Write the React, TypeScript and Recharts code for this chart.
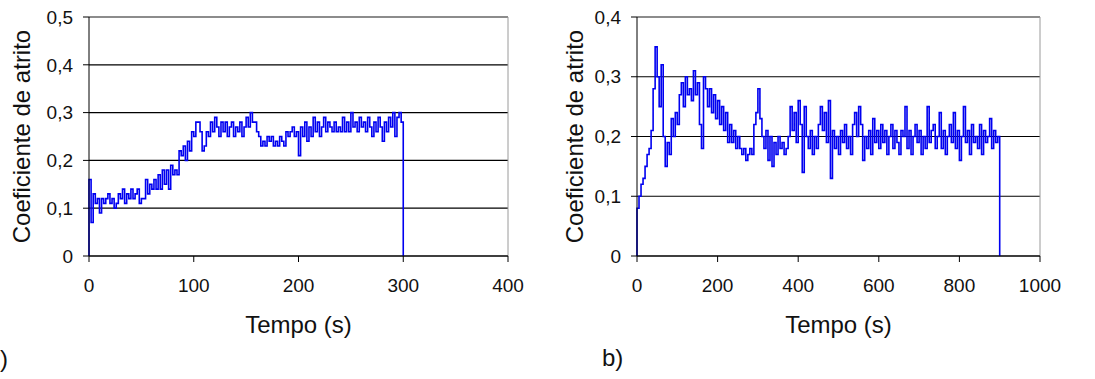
import { LineChart, Line, XAxis, YAxis, CartesianGrid, ReferenceLine, Label } from 'recharts';

// amostragem: ensaio a) a cada 2 s, ensaio b) a cada 5 s
const stepA = 2;
const stepB = 5;

const muA = [
  0.16, 0.07, 0.13, 0.11, 0.12, 0.09, 0.12, 0.11, 0.12, 0.13,
  0.11, 0.12, 0.10, 0.11, 0.13, 0.12, 0.14, 0.11, 0.13, 0.12,
  0.14, 0.12, 0.13, 0.14, 0.11, 0.12, 0.12, 0.16, 0.13, 0.15,
  0.14, 0.16, 0.14, 0.17, 0.14, 0.18, 0.15, 0.18, 0.14, 0.19,
  0.17, 0.18, 0.17, 0.22, 0.21, 0.23, 0.20, 0.24, 0.22, 0.26,
  0.25, 0.28, 0.28, 0.26, 0.22, 0.23, 0.26, 0.25, 0.28, 0.26,
  0.29, 0.27, 0.25, 0.28, 0.26, 0.28, 0.25, 0.27, 0.28, 0.25,
  0.27, 0.26, 0.28, 0.25, 0.27, 0.29, 0.27, 0.30, 0.28, 0.28,
  0.26, 0.25, 0.23, 0.24, 0.23, 0.25, 0.24, 0.25, 0.23, 0.24,
  0.23, 0.25, 0.24, 0.23, 0.26, 0.25, 0.26, 0.27, 0.25, 0.26,
  0.21, 0.27, 0.25, 0.28, 0.24, 0.27, 0.25, 0.29, 0.26, 0.28,
  0.25, 0.27, 0.29, 0.26, 0.28, 0.27, 0.26, 0.28, 0.26, 0.27,
  0.26, 0.29, 0.26, 0.28, 0.26, 0.30, 0.27, 0.28, 0.26, 0.29,
  0.27, 0.28, 0.26, 0.29, 0.27, 0.25, 0.28, 0.26, 0.29, 0.27,
  0.24, 0.28, 0.26, 0.29, 0.27, 0.30, 0.25, 0.29, 0.30, 0.28,
  0.24,
];

const muB = [
  0.08, 0.10, 0.12, 0.13, 0.15, 0.17, 0.18, 0.21, 0.28, 0.35,
  0.30, 0.25, 0.32, 0.20, 0.15, 0.19, 0.17, 0.23, 0.20, 0.24,
  0.22, 0.27, 0.29, 0.25, 0.30, 0.27, 0.28, 0.26, 0.31, 0.27,
  0.29, 0.22, 0.18, 0.30, 0.28, 0.25, 0.28, 0.24, 0.27, 0.23,
  0.26, 0.22, 0.25, 0.21, 0.24, 0.19, 0.22, 0.19, 0.21, 0.18,
  0.20, 0.18, 0.17, 0.18, 0.16, 0.17, 0.18, 0.17, 0.22, 0.24,
  0.28, 0.23, 0.20, 0.18, 0.21, 0.16, 0.20, 0.15, 0.19, 0.17,
  0.20, 0.18, 0.19, 0.17, 0.18, 0.20, 0.25, 0.21, 0.24, 0.19,
  0.26, 0.22, 0.14, 0.25, 0.20, 0.18, 0.21, 0.17, 0.20, 0.18,
  0.22, 0.25, 0.21, 0.24, 0.19, 0.26, 0.13, 0.21, 0.18, 0.20,
  0.17, 0.21, 0.19, 0.22, 0.18, 0.20, 0.17, 0.22, 0.24, 0.20,
  0.25, 0.22, 0.16, 0.20, 0.18, 0.21, 0.17, 0.23, 0.19, 0.21,
  0.18, 0.22, 0.19, 0.21, 0.17, 0.20, 0.22, 0.18, 0.21, 0.19,
  0.17, 0.21, 0.20, 0.25, 0.18, 0.21, 0.17, 0.20, 0.22, 0.19,
  0.21, 0.17, 0.20, 0.18, 0.25, 0.19, 0.21, 0.22, 0.18, 0.20,
  0.24, 0.18, 0.21, 0.17, 0.20, 0.22, 0.19, 0.24, 0.18, 0.21,
  0.16, 0.20, 0.25, 0.19, 0.21, 0.17, 0.22, 0.19, 0.20, 0.18,
  0.22, 0.17, 0.21, 0.19, 0.20, 0.23, 0.18, 0.21, 0.19, 0.20,
  0.19,
];

const ticksXA = [0, 100, 200, 300, 400];
const ticksYA = [0, 0.1, 0.2, 0.3, 0.4, 0.5];
const ticksXB = [0, 200, 400, 600, 800, 1000];
const ticksYB = [0, 0.1, 0.2, 0.3, 0.4];

const buildSeries = (mu: number[], step: number) => {
  const pts = mu.map((v, i) => ({ t: i * step, mu: v }));
  const tEnd = (mu.length - 1) * step;
  // sobe do zero no início e cai a zero no fim do ensaio
  return [{ t: 0, mu: 0 }, ...pts, { t: tEnd, mu: 0 }];
};

const dataA = buildSeries(muA, stepA);
const dataB = buildSeries(muB, stepB);

const FONT = '"Liberation Sans", Arial, sans-serif';
const fmt = (v: number) => (v === 0 ? '0' : String(v).replace('.', ','));
const tickStyle = { fontSize: 19, fill: '#111', fontFamily: FONT };
const labelStyle = { fontSize: 24, fill: '#111', fontFamily: FONT, textAnchor: 'middle' as const };

interface FrictionChartProps {
  data: Array<{ t: number; mu: number }>;
  width: number;
  yWidth: number;
  right: number;
  xMax: number;
  yMax: number;
  xTicks: number[];
  yTicks: number[];
  yLabelX: number;
}

const FrictionChart = ({ data, width, yWidth, right, xMax, yMax, xTicks, yTicks, yLabelX }: FrictionChartProps) => (
  <LineChart width={width} height={379} data={data} margin={{ top: 17, right, left: 0, bottom: 38 }}>
    <CartesianGrid vertical={false} stroke="#000" strokeWidth={1.2} />
    <XAxis
      dataKey="t"
      type="number"
      domain={[0, xMax]}
      ticks={xTicks}
      height={85}
      tick={tickStyle}
      tickSize={6}
      tickMargin={17}
      axisLine={{ stroke: '#000' }}
      tickLine={{ stroke: '#000' }}
    >
      <Label value="Tempo (s)" position="insideBottom" offset={8} style={labelStyle} />
    </XAxis>
    <YAxis
      type="number"
      domain={[0, yMax]}
      ticks={yTicks}
      width={yWidth}
      tickFormatter={fmt}
      tick={tickStyle}
      tickSize={6}
      tickMargin={10}
      axisLine={{ stroke: '#000' }}
      tickLine={{ stroke: '#000' }}
    >
      <Label value="Coeficiente de atrito" angle={-90} position="insideLeft" offset={yLabelX} style={labelStyle} />
    </YAxis>
    <ReferenceLine y={yMax} stroke="#9a9a9a" />
    <ReferenceLine x={xMax} stroke="#9a9a9a" />
    <Line
      type="stepAfter"
      dataKey="mu"
      stroke="#0000f0"
      strokeWidth={1.6}
      dot={false}
      isAnimationActive={false}
    />
  </LineChart>
);

export default function App() {
  return (
    <div style={{ position: 'absolute', left: 0, top: 0, width: 1095, height: 379, background: '#fff', fontFamily: FONT }}>
      <div style={{ position: 'absolute', left: 0, top: 0 }}>
        <FrictionChart
          data={dataA}
          width={530}
          yWidth={89}
          right={22}
          xMax={400}
          yMax={0.5}
          xTicks={ticksXA}
          yTicks={ticksYA}
          yLabelX={21}
        />
      </div>
      <div style={{ position: 'absolute', left: 540, top: 0 }}>
        <FrictionChart
          data={dataB}
          width={555}
          yWidth={97}
          right={55}
          xMax={1000}
          yMax={0.4}
          xTicks={ticksXB}
          yTicks={ticksYB}
          yLabelX={34}
        />
      </div>
      <div style={{ position: 'absolute', left: 0, top: 345, fontSize: 24, color: '#111' }}>)</div>
      <div style={{ position: 'absolute', left: 602, top: 344, fontSize: 24, color: '#111' }}>b)</div>
    </div>
  );
}
